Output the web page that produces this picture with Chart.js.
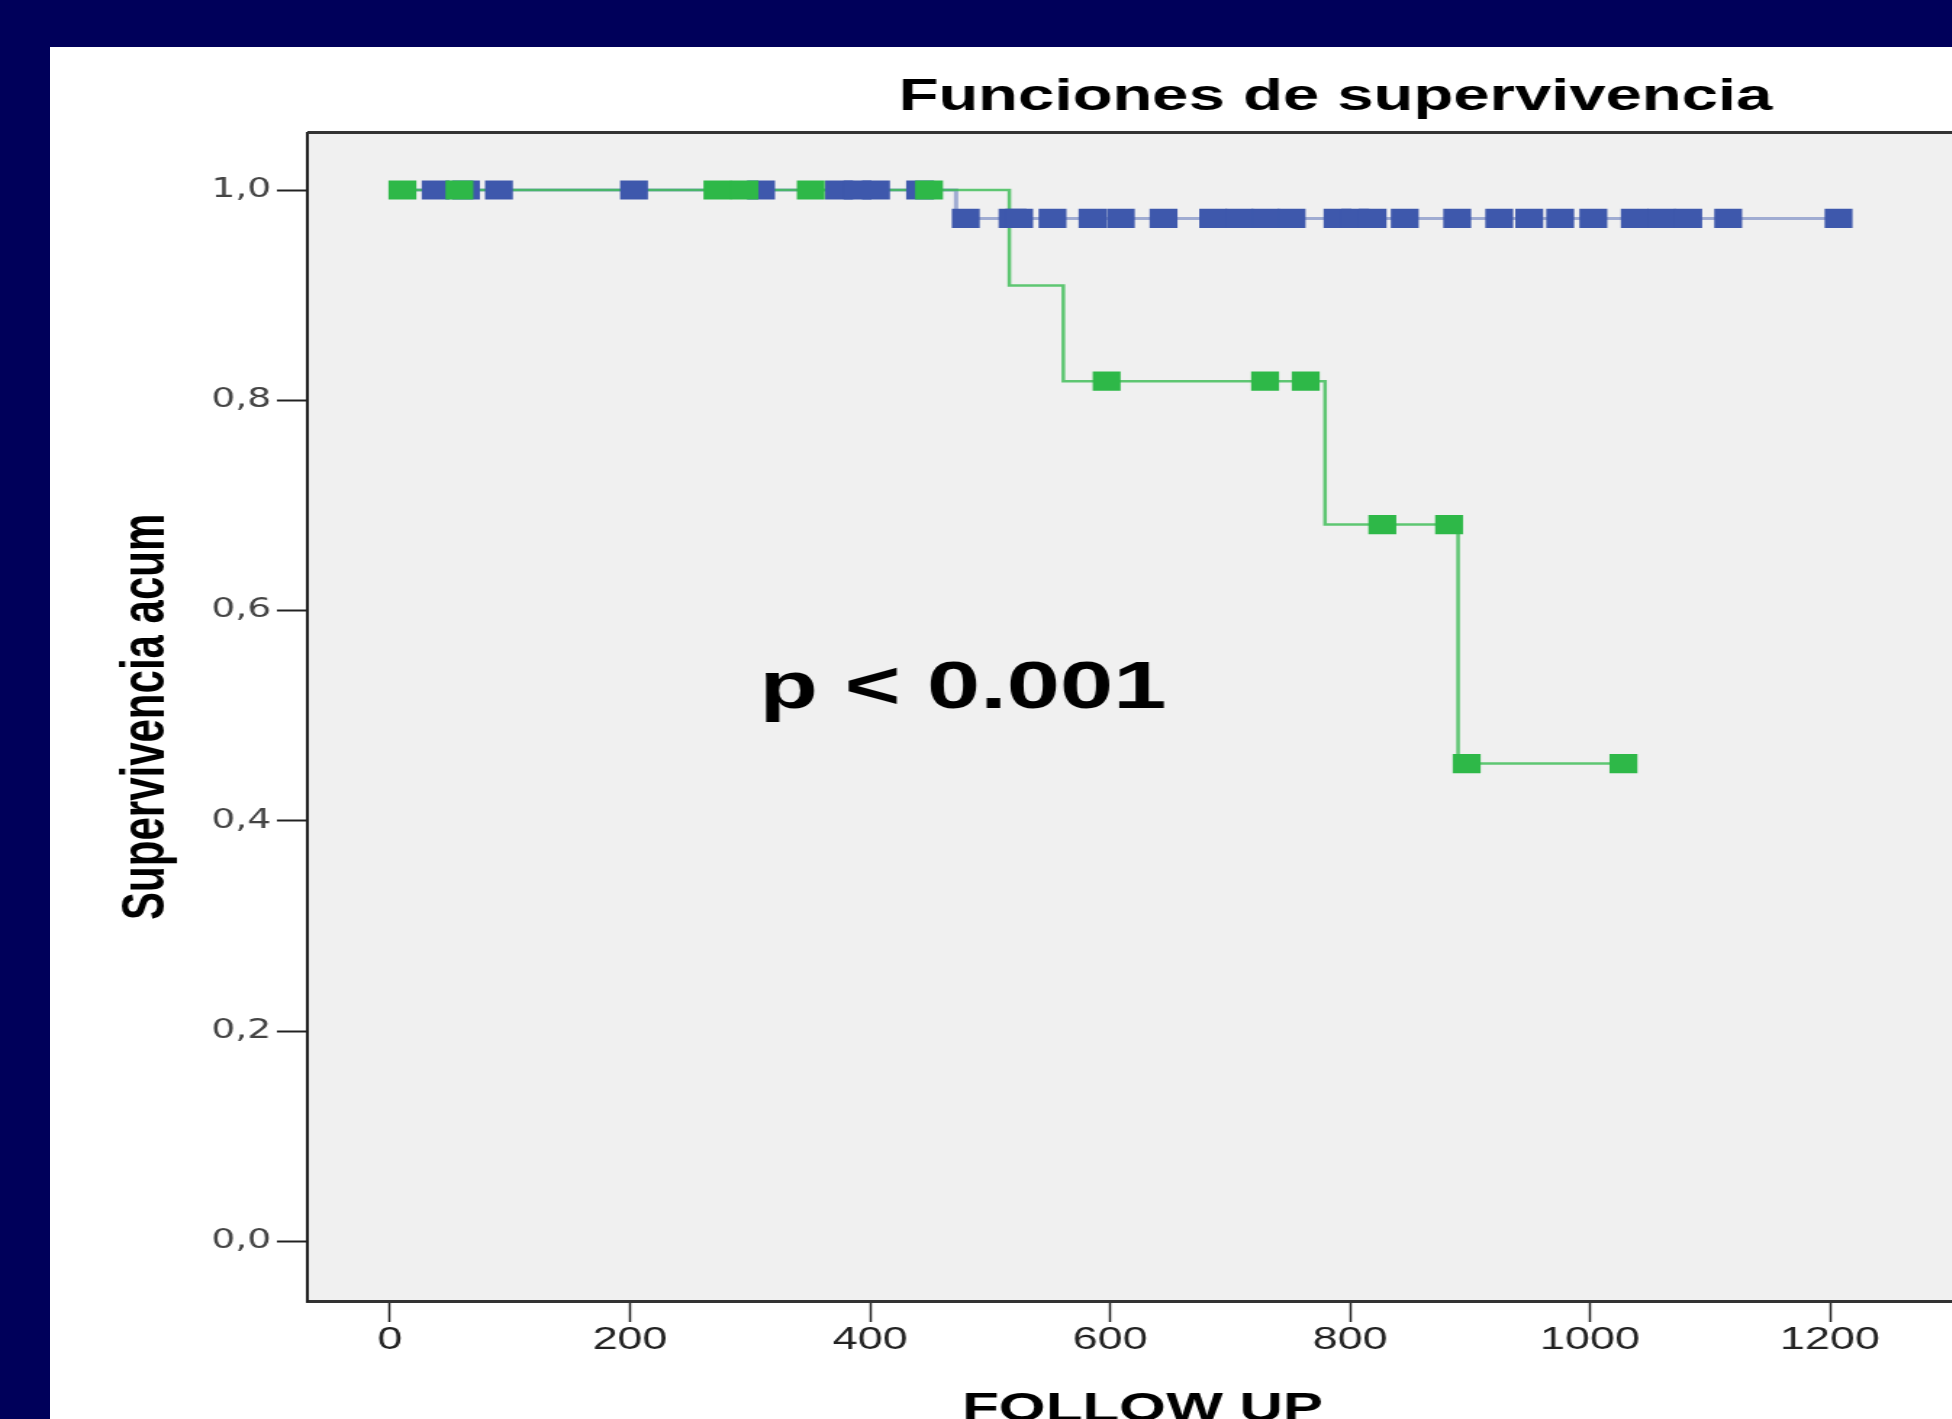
<!DOCTYPE html>
<html>
<head>
<meta charset="utf-8">
<script src="https://cdn.jsdelivr.net/npm/chart.js@4/dist/chart.umd.min.js"></script>
<style>
html,body{margin:0;padding:0;width:1952px;height:1419px;overflow:hidden;background:#00005A;}
#panel{position:absolute;left:50px;top:47px;width:1902px;height:1372px;background:#ffffff;}
#wrap{position:absolute;left:0;top:0;width:1842px;height:1419px;transform:scaleX(1.45);transform-origin:0 0;}
canvas{display:block;}
</style>
</head>
<body>
<div id="panel"></div>
<div id="wrap"><canvas id="c" width="1842" height="1419" style="width:1842px;height:1419px"></canvas></div>
<script>
// ---- data ----
const chartTitle = 'Funciones de supervivencia';
const yAxisTitle = 'Supervivencia acum';
const xAxisTitle = 'FOLLOW UP';
const pValueText = 'p < 0.001';

const xTickValues = [0, 200, 400, 600, 800, 1000, 1200];
const xTickLabels = ['0', '200', '400', '600', '800', '1000', '1200'];
const yTickValues = [0, 0.2, 0.4, 0.6, 0.8, 1.0];
const yTickLabels = ['0,0', '0,2', '0,4', '0,6', '0,8', '1,0'];

// group 2 (green): Kaplan-Meier steps (time, survival after the event)
const greenStepTimes = [0, 516.1, 561.1, 779.2, 890.0, 1027.8];
const greenStepSurv  = [1, 0.9091, 0.8182, 0.6818, 0.4545, 0.4545];
// green censored cases
const greenCensorTimes = [10.3, 57.8, 272.8, 295.3, 350.6, 449.2, 597.2, 729.2, 763.1, 826.9, 882.5, 897.2, 1027.8];
const greenCensorSurv  = [1, 1, 1, 1, 1, 1, 0.8182, 0.8182, 0.8182, 0.6818, 0.6818, 0.4545, 0.4545];

// group 1 (blue)
const blueStepTimes = [0, 471.7, 1207.1];
const blueStepSurv  = [1, 0.973, 0.973];
const blueCensorTimes = [38.1, 63.3, 90.8, 203.3, 309.2, 374.2, 389.6, 405.0, 441.7,
  479.8, 518.7, 524.3, 552.1, 585.4, 609.0, 644.6, 685.9, 707.7, 729.5, 751.3,
  789.6, 804.2, 818.8, 845.6, 889.3, 924.3, 949.3, 975.1, 1002.7, 1037.3, 1059.6,
  1081.8, 1115.1, 1207.1];
const blueCensorSurv = [1, 1, 1, 1, 1, 1, 1, 1, 1,
  0.973, 0.973, 0.973, 0.973, 0.973, 0.973, 0.973, 0.973, 0.973, 0.973, 0.973,
  0.973, 0.973, 0.973, 0.973, 0.973, 0.973, 0.973, 0.973, 0.973, 0.973, 0.973,
  0.973, 0.973, 0.973];

// p-value label anchor in data units (left edge, baseline)
const pValueAt = [307.9, 0.5074];

// ---- chart ----
const toPts = (xs, ys) => xs.map((t, i) => ({x: t, y: ys[i]}));
const GREEN = '#2EB848';
const BLUE = '#3E58AC';

const plotFrame = {
  id: 'plotFrame',
  beforeDraw(chart) {
    const {ctx, chartArea: a} = chart;
    ctx.save();
    ctx.fillStyle = '#F0F0F0';
    ctx.fillRect(a.left, a.top, a.right - a.left, a.bottom - a.top);
    ctx.restore();
  },
  afterDraw(chart) {
    const {ctx, chartArea: a, scales: {x, y}} = chart;
    ctx.save();
    ctx.strokeStyle = '#333';
    ctx.lineWidth = 3;
    ctx.beginPath();
    ctx.moveTo(a.left, a.top);
    ctx.lineTo(a.right, a.top);
    ctx.stroke();
    ctx.fillStyle = '#000';
    ctx.textAlign = 'left';
    ctx.textBaseline = 'alphabetic';
    ctx.font = 'bold 66px "Liberation Sans", Arial, sans-serif';
    ctx.fillText(pValueText, x.getPixelForValue(pValueAt[0]), y.getPixelForValue(pValueAt[1]));
    ctx.textAlign = 'center';
    ctx.font = 'bold 41.5px "Liberation Sans", Arial, sans-serif';
    ctx.fillText(xAxisTitle, 788, 1421);
    ctx.restore();
  }
};

new Chart(document.getElementById('c'), {
  type: 'scatter',
  data: {
    datasets: [
      {
        label: 'green censored',
        data: toPts(greenCensorTimes, greenCensorSurv),
        backgroundColor: GREEN,
        pointStyle: 'rect',
        pointRadius: 13.6,
        pointBorderWidth: 0,
        showLine: false
      },
      {
        label: 'blue censored',
        data: toPts(blueCensorTimes, blueCensorSurv),
        backgroundColor: BLUE,
        pointStyle: 'rect',
        pointRadius: 13.6,
        pointBorderWidth: 0,
        showLine: false
      },
      {
        label: 'green',
        data: toPts(greenStepTimes, greenStepSurv),
        showLine: true,
        stepped: true,
        borderColor: 'rgba(46,184,72,0.75)',
        borderWidth: 2.5,
        pointRadius: 0,
        fill: false
      },
      {
        label: 'blue',
        data: toPts(blueStepTimes, blueStepSurv),
        showLine: true,
        stepped: true,
        borderColor: 'rgba(62,88,172,0.45)',
        borderWidth: 3,
        pointRadius: 0,
        fill: false
      }
    ]
  },
  options: {
    responsive: false,
    animation: false,
    devicePixelRatio: 1,
    layout: {padding: 0, autoPadding: false},
    plugins: {
      legend: {display: false},
      tooltip: {enabled: false},
      title: {
        display: true,
        text: chartTitle,
        color: '#000',
        font: {family: '"Liberation Sans", Arial, sans-serif', size: 45, weight: 'bold'},
        padding: {top: 70.7, bottom: 7.9}
      }
    },
    scales: {
      x: {
        type: 'linear',
        min: -68.84,
        max: 1900.7,
        afterBuildTicks: s => { s.ticks = xTickValues.map(v => ({value: v})); },
        afterFit: s => { s.height = 118; },
        ticks: {
          autoSkip: false,
          maxRotation: 0,
          padding: 0,
          color: '#222',
          font: {family: '"Liberation Sans", Arial, sans-serif', size: 31},
          callback: (v, i) => xTickLabels[i]
        },
        grid: {display: true, drawOnChartArea: false, drawTicks: true, tickLength: 21, tickColor: '#222', tickWidth: 1.5},
        border: {display: true, color: '#333', width: 3}
      },
      y: {
        type: 'linear',
        min: -0.05659,
        max: 1.05459,
        afterBuildTicks: s => { s.ticks = yTickValues.map(v => ({value: v})); },
        afterFit: s => { s.width = 212; },
        ticks: {
          padding: 4,
          color: '#444',
          font: {family: '"DejaVu Sans", Verdana, sans-serif', size: 26},
          callback: (v, i) => yTickLabels[i]
        },
        grid: {display: true, drawOnChartArea: false, drawTicks: true, tickLength: 21, tickColor: '#222', tickWidth: 2},
        border: {display: true, color: '#222', width: 2},
        title: {
          display: true,
          text: yAxisTitle,
          color: '#000',
          font: {family: '"Liberation Sans", Arial, sans-serif', size: 42, weight: 'bold'},
          padding: {top: 76.5, bottom: 0}
        }
      }
    }
  },
  plugins: [plotFrame]
});
</script>
</body>
</html>
